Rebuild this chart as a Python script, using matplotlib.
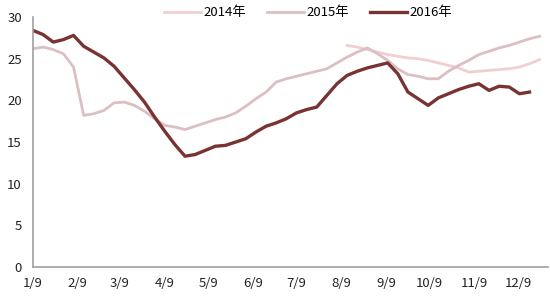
import numpy as np
import pandas as pd
import matplotlib
matplotlib.use("Agg")
import matplotlib.pyplot as plt
import matplotlib.dates as mdates

plt.rcParams['font.family'] = ['Noto Sans CJK SC', 'DejaVu Sans']

# weekly observations, first week = Jan 9
weeks = pd.date_range("2016-01-09", periods=51, freq="7D")

s2016 = [28.4, 27.9, 27.0, 27.3, 27.8, 26.5, 25.8, 25.1, 24.1, 22.7,
         21.3, 19.8, 18.0, 16.3, 14.7, 13.3, 13.5, 14.0, 14.5, 14.6,
         15.0, 15.4, 16.2, 16.9, 17.3, 17.8, 18.5, 18.9, 19.2, 20.6,
         22.0, 23.0, 23.5, 23.9, 24.2, 24.5, 23.2, 21.0, 20.2, 19.4,
         20.3, 20.8, 21.3, 21.7, 22.0, 21.2, 21.7, 21.6, 20.8, 21.0]

s2015 = [26.2, 26.4, 26.1, 25.6, 24.0, 18.2, 18.4, 18.8, 19.7, 19.8,
         19.4, 18.7, 17.8, 17.0, 16.8, 16.5, 16.9, 17.3, 17.7, 18.0,
         18.5, 19.3, 20.2, 21.0, 22.2, 22.6, 22.9, 23.2, 23.5, 23.8,
         24.5, 25.2, 25.8, 26.3, 25.6, 24.8, 23.8, 23.1, 22.9, 22.6,
         22.6, 23.5, 24.2, 24.8, 25.5, 25.9, 26.3, 26.6, 27.0, 27.4,
         27.7]

# 2014 only from week 31 onward
s2014 = [26.6, 26.4, 26.1, 25.8, 25.5, 25.3, 25.1, 25.0, 24.8, 24.5,
         24.2, 23.9, 23.4, 23.5, 23.6, 23.7, 23.8, 24.0, 24.4, 24.9]
start2014 = 31

tick_dates = pd.to_datetime(["2016-%02d-09" % m for m in range(1, 13)])
tick_labels = ["%d/9" % m for m in range(1, 13)]

fig = plt.figure(figsize=(5.5, 3.0), dpi=100)
ax = fig.add_axes([0.06, 0.11, 0.937, 0.833])

ax.plot(weeks[start2014:start2014 + len(s2014)], s2014, color="#f2cfcf", lw=2.0, label="2014年")
ax.plot(weeks[:len(s2015)], s2015, color="#dbbfc2", lw=2.0, label="2015年")
ax.plot(weeks[:len(s2016)], s2016, color="#7a3333", lw=2.4, label="2016年")

ax.set_ylim(0, 30)
ax.set_yticks(range(0, 31, 5))
ax.set_xlim(pd.Timestamp("2016-01-09"), pd.Timestamp("2016-12-30"))
ax.set_xticks(tick_dates)
ax.set_xticklabels(tick_labels)
ax.tick_params(length=0, labelsize=9.5, colors="#222222", pad=7)
ax.tick_params(axis="y", pad=8)

for side in ["top", "right"]:
    ax.spines[side].set_visible(False)
for side in ["left", "bottom"]:
    ax.spines[side].set_color("#a0a0a0")
    ax.spines[side].set_linewidth(1.2)

fig.legend(loc="center", bbox_to_anchor=(0.56, 0.957), ncol=3, frameon=False,
           fontsize=9.5, handlelength=2.8, handletextpad=0.2, columnspacing=1.6,
           borderpad=0.1)

fig.savefig("out.png", dpi=100)
